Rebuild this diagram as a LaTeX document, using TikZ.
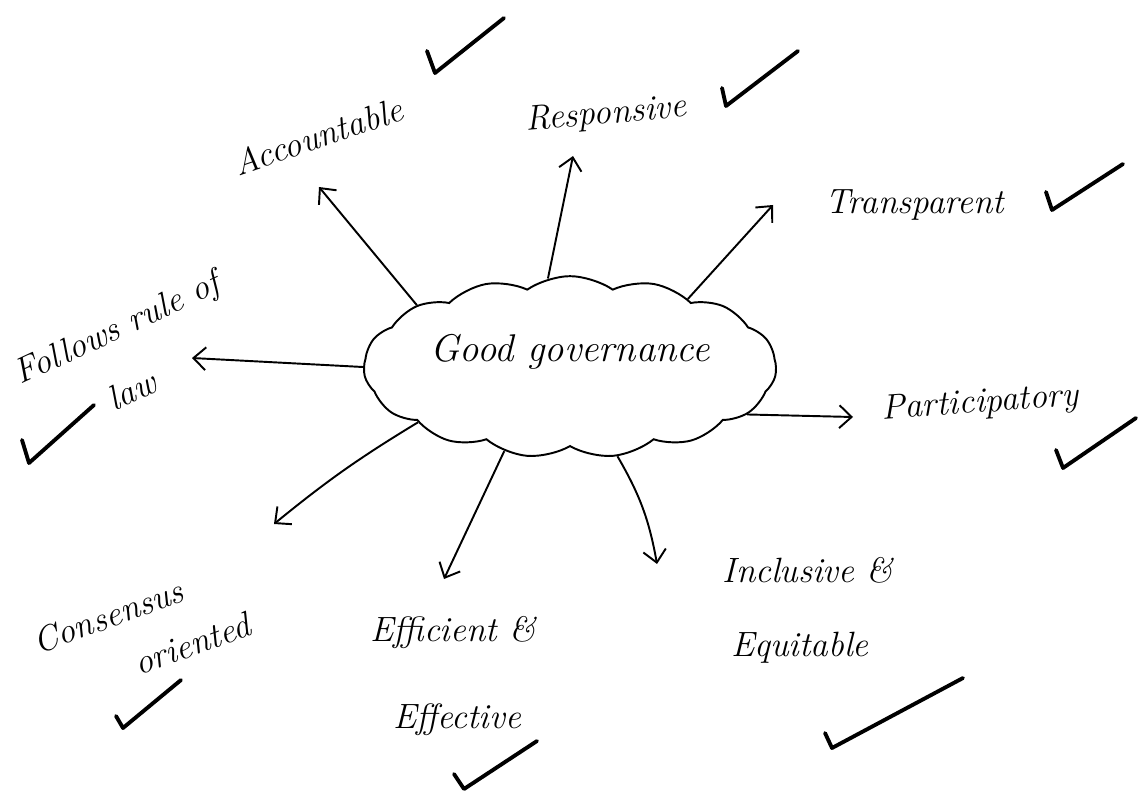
\documentclass[tikz,border=0pt]{standalone}
\usepackage{tikz}
\usetikzlibrary{arrows.meta, positioning, shapes.symbols}
\tikzset{
  lbl/.style={font=\fontsize{20}{24}\selectfont\itshape, inner sep=1pt},
  arr/.style={-{Straight Barb[length=7pt,width=13pt]}, line width=1.1pt},
  tickline/.style={line width=2.2pt, line cap=round, line join=round},
  hub/.style={cloud, draw, line width=1.1pt, cloud puffs=15, cloud puff arc=70,
              aspect=2.6, minimum width=6.6cm, minimum height=2.5cm, text depth=22pt,
              font=\fontsize{22}{26}\selectfont\itshape},
}

\begin{document}
\begin{tikzpicture}[x=0.02cm, y=-0.02cm]
  \useasboundingbox (0,0) rectangle (1138,793);

  %% Centre
  \node[hub] (gg) at (570,367) {Good governance};

  %% Labels
  \node[lbl, rotate=18.7] (acc)   at (318,136) {Accountable};
  \node[lbl, rotate=5]    (resp)  at (606,115) {Responsive};
  \node[lbl]              (trans) at (915,205) {Transparent};
  \node[lbl, rotate=4]    (part)  at (980,404) {Participatory};
  \node[lbl, rotate=25]   (law1)  at (118,330) {Follows rule of};
  \node[lbl, rotate=25]   (law2)  at (132,390) {law};
  \node[lbl, rotate=20]   (cons1) at (108,616) {Consensus};
  \node[lbl, rotate=20]   (cons2) at (192,644) {oriented};
  \node[lbl]              (eff1)  at (453,633) {Efficient \&};
  \node[lbl]              (eff2)  at (457,720) {Effective};
  \node[lbl]              (incl1) at (808,570) {Inclusive \&};
  \node[lbl]              (incl2) at (800,648) {Equitable};

  %% Arrow tips
  \coordinate (accTip)   at (319,187);
  \coordinate (respTip)  at (573,156);
  \coordinate (transTip) at (773,205);
  \coordinate (lawTip)   at (192,358);
  \coordinate (partTip)  at (853,417);
  \coordinate (consTip)  at (274,524);
  \coordinate (effTip)   at (444,579);
  \coordinate (inclTip)  at (657,564);

  \draw[arr] (gg.158) -- (accTip);
  \draw[arr] (gg.104) -- (respTip);
  \draw[arr] (gg.30)  -- (transTip);
  \draw[arr] (gg.180) -- (lawTip);
  \draw[arr] (gg.-15) -- (partTip);
  \draw[arr] (gg.200) to[bend right=4] (consTip);
  \draw[arr] (gg.232) -- (effTip);
  \draw[arr] (gg.298) to[bend left=10] (inclTip);

  %% Ticks
  \foreach \ax/\ay/\bx/\by/\cx/\cy in {
    427/51/435/73/504/18, 722/88/726/106/798/51,
    1046/192/1052/210/1123/164, 1056/450/1063/468/1136/418,
    22/440/29/463/94/405, 116/716/123/728/181/680,
    454/774/464/789/537/741, 825/733/832/748/963/678}{
    \draw[tickline] (\ax,\ay) -- (\bx,\by) -- (\cx,\cy);
  }
\end{tikzpicture}
\end{document}
